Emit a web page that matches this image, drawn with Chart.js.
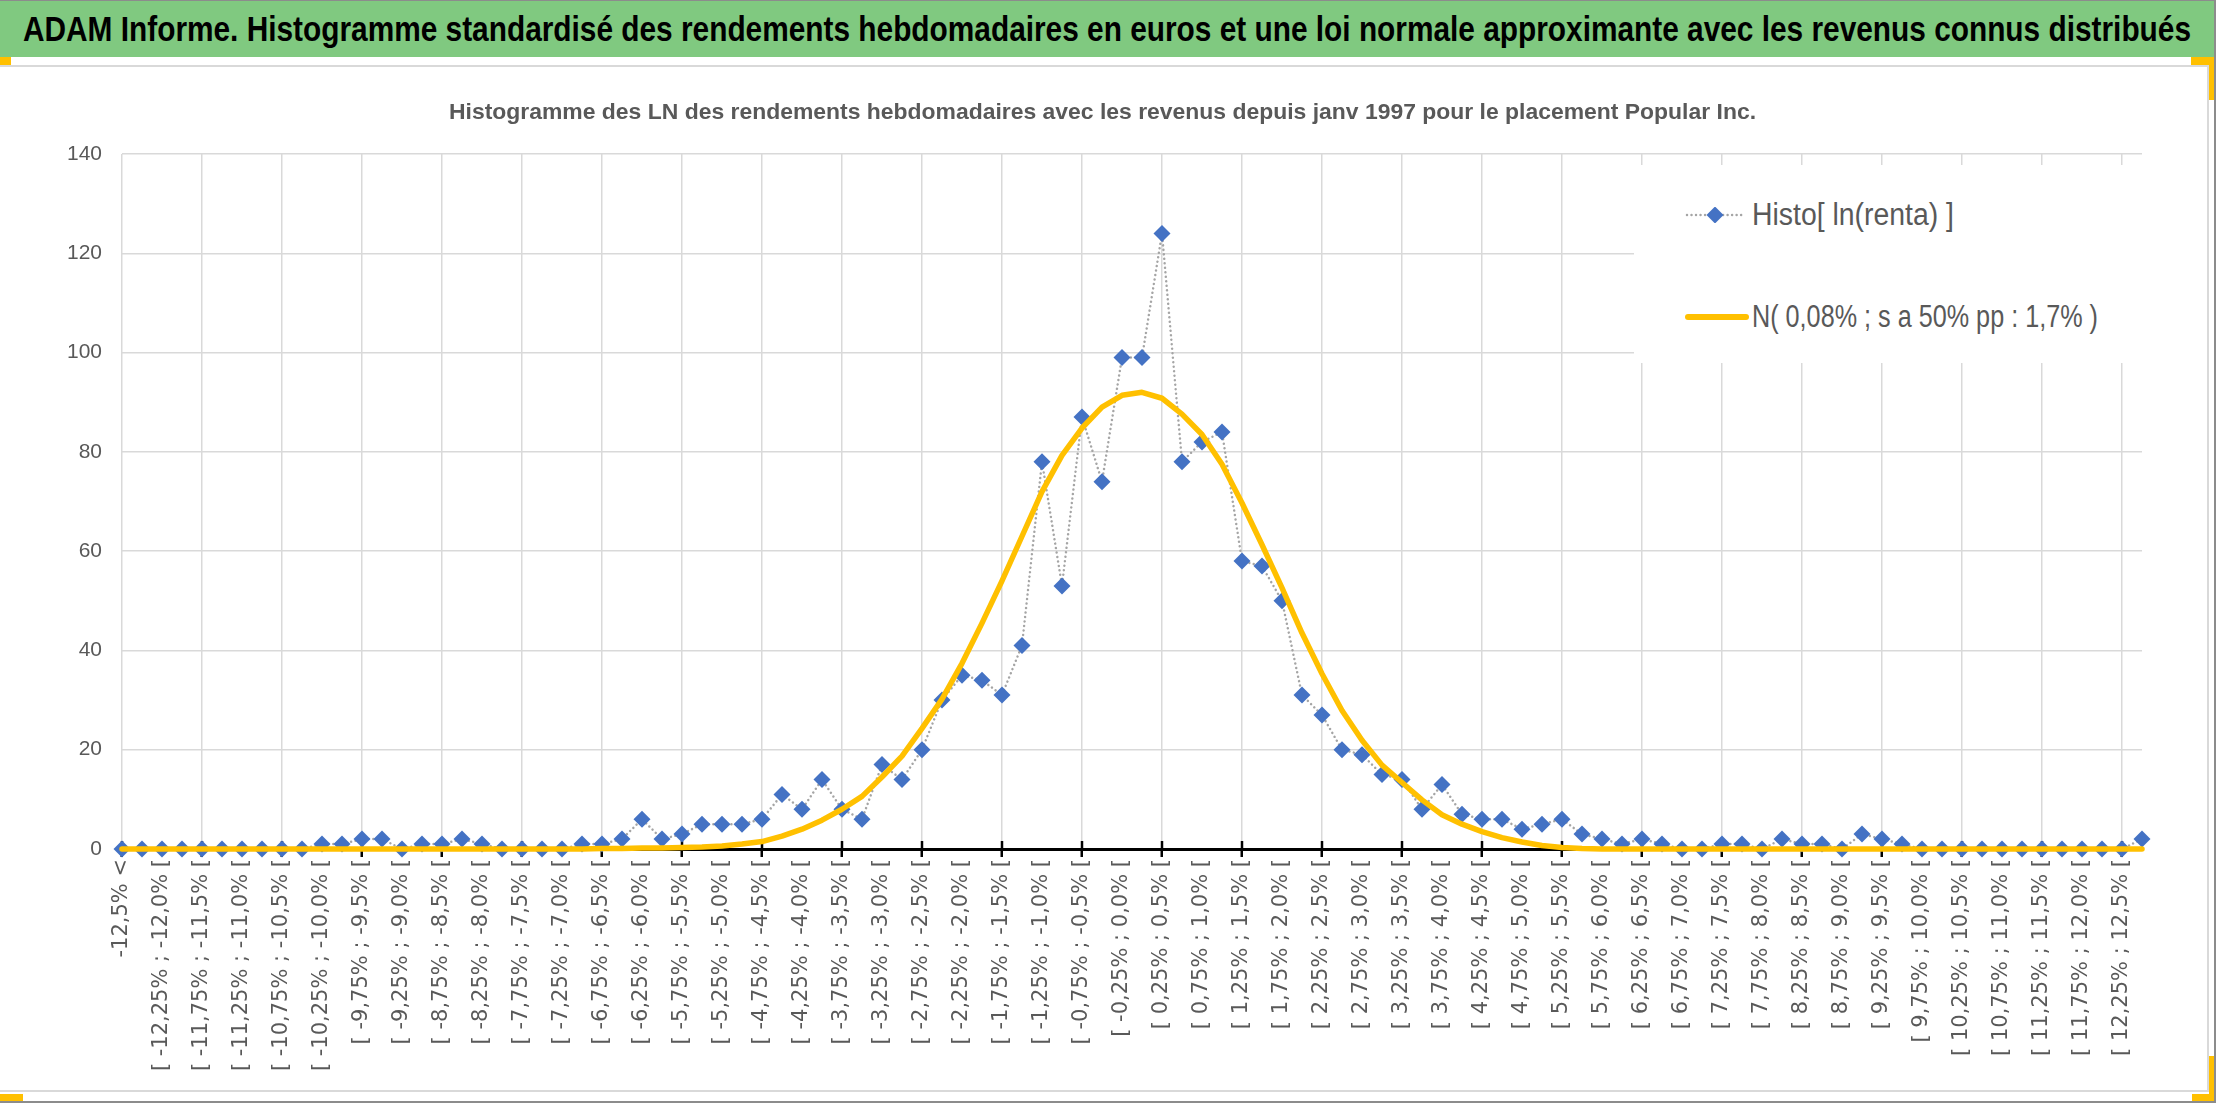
<!DOCTYPE html>
<html>
<head>
<meta charset="utf-8">
<script src="https://cdn.jsdelivr.net/npm/chart.js@4.4.1/dist/chart.umd.min.js"></script>
<style>
  html, body { margin: 0; padding: 0; background: #fff; }
  #page { position: relative; width: 2216px; height: 1103px; overflow: hidden; background: #fff; }
  #outer { position: absolute; left: 0; top: 0; width: 2216px; height: 1103px; box-sizing: border-box;
           border-top: 1px solid #8c8c8c; border-right: 2px solid #8c8c8c; border-bottom: 2px solid #8c8c8c; }
  #banner { position: absolute; left: 0; top: 1px; width: 2214px; height: 56px; background: #80c980;
            white-space: nowrap; overflow: hidden; }
  #banner span { position: absolute; left: 1107px; top: 0; line-height: 56px; color: #000; font-weight: bold;
                 transform-origin: 50% 50%; }
  #chartbox { position: absolute; left: 0; top: 65px; width: 2209px; height: 1027px; box-sizing: border-box;
              border-top: 2px solid #d9d9d9; border-right: 2px solid #d9d9d9; border-bottom: 2px solid #d9d9d9; }
  #wrap { position: absolute; left: 0; top: 68px; width: 2205px; height: 1022px; }
  .mark { position: absolute; background: #ffc000; }
  #legend { position: absolute; left: 1634px; top: 165px; width: 516px; height: 198px; background: #fff; }
  .item { position: absolute; left: 51px; height: 40px; white-space: nowrap; color: #595959; }
  .item svg { position: absolute; left: 0; top: 12px; }
  .item span { position: absolute; left: 67px; top: 0; line-height: 40px; transform-origin: 0 50%; }
</style>
</head>
<body>
<div id="page">
  <div id="banner"><span id="bannerText">ADAM Informe. Histogramme standardisé des rendements hebdomadaires en euros et une loi normale approximante avec les revenus connus distribués</span></div>
  <div id="chartbox"></div>
  <div id="wrap"><canvas id="histoChart"></canvas></div>
  <div id="legend">
    <div class="item" style="top:30px">
      <svg width="60" height="16"><line x1="2" y1="8" x2="58" y2="8" stroke="#a5a5a5" stroke-width="2.5" stroke-linecap="round" stroke-dasharray="0.01 4.5"/><polygon points="30,-0.5 38.5,8 30,16.5 21.5,8" fill="#4472c4"/></svg>
      <span id="leg1">Histo[ ln(renta) ]</span>
    </div>
    <div class="item" style="top:132px">
      <svg width="64" height="16"><line x1="3" y1="8" x2="61" y2="8" stroke="#ffc000" stroke-width="6" stroke-linecap="round"/></svg>
      <span id="leg2">N( 0,08% ; s a 50% pp : 1,7% )</span>
    </div>
  </div>
  <div id="outer"></div>
  <div class="mark" style="left:0;top:57px;width:11px;height:8px"></div>
  <div class="mark" style="left:2191px;top:57px;width:23px;height:8px"></div>
  <div class="mark" style="left:2209px;top:57px;width:5px;height:43px"></div>
  <div class="mark" style="left:2209px;top:1056px;width:5px;height:45px"></div>
  <div class="mark" style="left:2192px;top:1094px;width:22px;height:7px"></div>
  <div class="mark" style="left:0;top:1094px;width:23px;height:7px"></div>
</div>
<script>
// classes de rendement (0,25 %)
var categories = [
  "-12,5% <",
  "[ -12,5% ; -12,25% [", "[ -12,25% ; -12,0% [", "[ -12,0% ; -11,75% [", "[ -11,75% ; -11,5% [",
  "[ -11,5% ; -11,25% [", "[ -11,25% ; -11,0% [", "[ -11,0% ; -10,75% [", "[ -10,75% ; -10,5% [",
  "[ -10,5% ; -10,25% [", "[ -10,25% ; -10,0% [", "[ -10,0% ; -9,75% [", "[ -9,75% ; -9,5% [",
  "[ -9,5% ; -9,25% [", "[ -9,25% ; -9,0% [", "[ -9,0% ; -8,75% [", "[ -8,75% ; -8,5% [",
  "[ -8,5% ; -8,25% [", "[ -8,25% ; -8,0% [", "[ -8,0% ; -7,75% [", "[ -7,75% ; -7,5% [",
  "[ -7,5% ; -7,25% [", "[ -7,25% ; -7,0% [", "[ -7,0% ; -6,75% [", "[ -6,75% ; -6,5% [",
  "[ -6,5% ; -6,25% [", "[ -6,25% ; -6,0% [", "[ -6,0% ; -5,75% [", "[ -5,75% ; -5,5% [",
  "[ -5,5% ; -5,25% [", "[ -5,25% ; -5,0% [", "[ -5,0% ; -4,75% [", "[ -4,75% ; -4,5% [",
  "[ -4,5% ; -4,25% [", "[ -4,25% ; -4,0% [", "[ -4,0% ; -3,75% [", "[ -3,75% ; -3,5% [",
  "[ -3,5% ; -3,25% [", "[ -3,25% ; -3,0% [", "[ -3,0% ; -2,75% [", "[ -2,75% ; -2,5% [",
  "[ -2,5% ; -2,25% [", "[ -2,25% ; -2,0% [", "[ -2,0% ; -1,75% [", "[ -1,75% ; -1,5% [",
  "[ -1,5% ; -1,25% [", "[ -1,25% ; -1,0% [", "[ -1,0% ; -0,75% [", "[ -0,75% ; -0,5% [",
  "[ -0,5% ; -0,25% [", "[ -0,25% ; 0,0% [", "[ 0,0% ; 0,25% [", "[ 0,25% ; 0,5% [",
  "[ 0,5% ; 0,75% [", "[ 0,75% ; 1,0% [", "[ 1,0% ; 1,25% [", "[ 1,25% ; 1,5% [",
  "[ 1,5% ; 1,75% [", "[ 1,75% ; 2,0% [", "[ 2,0% ; 2,25% [", "[ 2,25% ; 2,5% [",
  "[ 2,5% ; 2,75% [", "[ 2,75% ; 3,0% [", "[ 3,0% ; 3,25% [", "[ 3,25% ; 3,5% [",
  "[ 3,5% ; 3,75% [", "[ 3,75% ; 4,0% [", "[ 4,0% ; 4,25% [", "[ 4,25% ; 4,5% [",
  "[ 4,5% ; 4,75% [", "[ 4,75% ; 5,0% [", "[ 5,0% ; 5,25% [", "[ 5,25% ; 5,5% [",
  "[ 5,5% ; 5,75% [", "[ 5,75% ; 6,0% [", "[ 6,0% ; 6,25% [", "[ 6,25% ; 6,5% [",
  "[ 6,5% ; 6,75% [", "[ 6,75% ; 7,0% [", "[ 7,0% ; 7,25% [", "[ 7,25% ; 7,5% [",
  "[ 7,5% ; 7,75% [", "[ 7,75% ; 8,0% [", "[ 8,0% ; 8,25% [", "[ 8,25% ; 8,5% [",
  "[ 8,5% ; 8,75% [", "[ 8,75% ; 9,0% [", "[ 9,0% ; 9,25% [", "[ 9,25% ; 9,5% [",
  "[ 9,5% ; 9,75% [", "[ 9,75% ; 10,0% [", "[ 10,0% ; 10,25% [", "[ 10,25% ; 10,5% [",
  "[ 10,5% ; 10,75% [", "[ 10,75% ; 11,0% [", "[ 11,0% ; 11,25% [", "[ 11,25% ; 11,5% [",
  "[ 11,5% ; 11,75% [", "[ 11,75% ; 12,0% [", "[ 12,0% ; 12,25% [", "[ 12,25% ; 12,5% [",
  "12,5% >"
];

// nombre de semaines par classe
var histoValues = [
  0, 0, 0, 0, 0, 0, 0, 0, 0, 0,
  1, 1, 2, 2, 0, 1, 1, 2, 1, 0,
  0, 0, 0, 1, 1, 2, 6, 2, 3, 5,
  5, 5, 6, 11, 8, 14, 8, 6, 17, 14,
  20, 30, 35, 34, 31, 41, 78, 53, 87, 74,
  99, 99, 124, 78, 82, 84, 58, 57, 50, 31,
  27, 20, 19, 15, 14, 8, 13, 7, 6, 6,
  4, 5, 6, 3, 2, 1, 2, 1, 0, 0,
  1, 1, 0, 2, 1, 1, 0, 3, 2, 1,
  0, 0, 0, 0, 0, 0, 0, 0, 0, 0,
  0, 2
];

// loi normale
var normalValues = [
  0, 0, 0, 0, 0, 0, 0, 0, 0, 0,
  0, 0, 0, 0, 0, 0, 0, 0, 0, 0,
  0, 0, 0, 0, 0.1, 0.1, 0.2, 0.2, 0.3, 0.4,
  0.6, 1.0, 1.5, 2.6, 4.0, 5.8, 8.0, 10.6, 14.5, 18.7,
  24.3, 30.2, 37.4, 45.5, 54.0, 63.0, 72.0, 79.3, 84.8, 89.0,
  91.4, 92.0, 90.8, 87.6, 83.5, 77.5, 69.7, 61.3, 52.6, 43.5,
  35.3, 27.9, 21.9, 16.9, 13.4, 9.9, 6.9, 5.0, 3.5, 2.3,
  1.4, 0.7, 0.3, 0.1, 0, 0, 0, 0, 0, 0,
  0, 0, 0, 0, 0, 0, 0, 0, 0, 0,
  0, 0, 0, 0, 0, 0, 0, 0, 0, 0,
  0, 0
];

var seriesNames = ["Histo[ ln(renta) ]", "N( 0,08% ; s a 50% pp : 1,7% )"];
var chartTitle = "Histogramme des LN des rendements hebdomadaires avec les revenus depuis janv 1997 pour le placement Popular Inc.";
var yMax = 140;
var yStep = 20;

var SANS = "'Liberation Sans', Arial, sans-serif";

function textWidth(text, font) {
  var c = document.createElement('canvas').getContext('2d');
  c.font = font;
  return c.measureText(text).width;
}

// texte étroit : police plus haute, compressée en largeur
function squeeze(el, size, weight, target, shift) {
  el.style.fontFamily = SANS;
  el.style.fontSize = size + 'px';
  var w = textWidth(el.textContent, weight + ' ' + size + 'px ' + SANS);
  el.style.transform = (shift ? 'translateX(-50%) ' : '') + 'scaleX(' + (target / w) + ')';
}

squeeze(document.getElementById('bannerText'), 35, 'bold', 2168, true);
squeeze(document.getElementById('leg1'), 31, 'normal', 202);
squeeze(document.getElementById('leg2'), 31, 'normal', 346);

var titleSize = 100 * 1308 / textWidth(chartTitle, 'bold 100px ' + SANS);
var yTickSize = 100 * 35 / textWidth('140', '100px ' + SANS);

// petites graduations croisées au-dessus de l'axe
var crossTicks = {
  id: 'crossTicks',
  beforeDatasetsDraw: function (chart) {
    var x = chart.scales.x, ctx = chart.ctx, bottom = chart.chartArea.bottom;
    ctx.save();
    ctx.strokeStyle = '#000';
    ctx.lineWidth = 2.5;
    for (var i = 0; i < categories.length; i += 4) {
      var px = x.getPixelForTick(i);
      ctx.beginPath();
      ctx.moveTo(px, bottom - 8);
      ctx.lineTo(px, bottom);
      ctx.stroke();
    }
    ctx.restore();
  }
};

var ctx = document.getElementById('histoChart').getContext('2d');
var chart = new Chart(ctx, {
  type: 'line',
  data: {
    labels: categories,
    datasets: [{
      label: seriesNames[0],
      data: histoValues,
      order: 2,
      borderColor: '#a5a5a5',
      borderWidth: 2.5,
      borderDash: [0.01, 4.5],
      borderCapStyle: 'round',
      pointStyle: 'rectRot',
      pointRadius: 8.5,
      pointBorderWidth: 0,
      pointBackgroundColor: '#4472c4',
      pointBorderColor: '#4472c4',
      tension: 0,
      clip: false
    }, {
      label: seriesNames[1],
      data: normalValues,
      order: 1,
      borderColor: '#ffc000',
      borderWidth: 5.5,
      borderCapStyle: 'round',
      borderJoinStyle: 'round',
      pointRadius: 0,
      tension: 0,
      clip: false
    }]
  },
  options: {
    responsive: true,
    maintainAspectRatio: false,
    animation: false,
    layout: { padding: 0 },
    plugins: {
      legend: { display: false },
      tooltip: { enabled: false },
      title: {
        display: true,
        text: chartTitle,
        color: '#595959',
        font: { family: SANS, size: titleSize, weight: 'bold', lineHeight: 1.2 },
        padding: { top: 45 - 0.6 * titleSize, bottom: 41 - 0.6 * titleSize }
      }
    },
    scales: {
      x: {
        afterFit: function (scale) { scale.height = 241; },
        grid: {
          color: function (c) { return c.index % 4 === 0 ? '#d9d9d9' : 'rgba(0,0,0,0)'; },
          tickColor: function (c) { return c.index % 4 === 0 ? '#000' : 'rgba(0,0,0,0)'; },
          lineWidth: 1.5,
          tickWidth: 2.5,
          tickLength: 8
        },
        border: { display: true, color: '#000', width: 3 },
        ticks: {
          autoSkip: false,
          minRotation: 90,
          maxRotation: 90,
          padding: 2,
          color: '#595959',
          font: { family: "'DejaVu Sans', sans-serif", size: 21 },
          callback: function (value, index) {
            return index % 2 === 0 ? this.getLabelForValue(value) : '';
          }
        }
      },
      y: {
        min: 0,
        max: yMax,
        afterFit: function (scale) { scale.width = 122; },
        grid: { color: '#d9d9d9', lineWidth: 1.5, drawTicks: false },
        border: { display: false },
        ticks: {
          stepSize: yStep,
          padding: 20,
          color: '#595959',
          font: { family: SANS, size: yTickSize }
        }
      },
      // marge droite, pour que le titre reste centré sur tout le cadre
      right: {
        position: 'right',
        afterFit: function (scale) { scale.width = 63; },
        grid: { display: false },
        border: { display: false },
        ticks: { display: false }
      }
    }
  },
  plugins: [crossTicks]
});
</script>
</body>
</html>
